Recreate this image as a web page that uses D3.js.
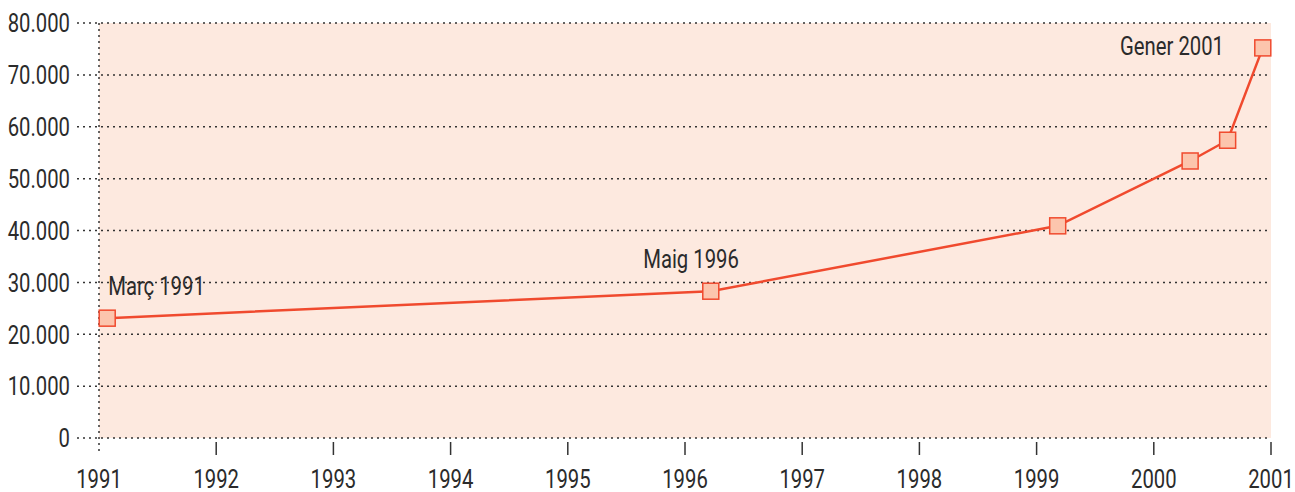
<!DOCTYPE html>
<html><head><meta charset="utf-8">
<script src="https://cdn.jsdelivr.net/npm/d3@7"></script>
<style>
body{margin:0;background:#fff;}
text{font-family:"Roboto","Liberation Sans",sans-serif;fill:#2b2b2b;}
</style></head><body>
<svg id="c" width="1295" height="492"></svg>
<script>
const yTicks = [0,10000,20000,30000,40000,50000,60000,70000,80000];
const yTickLabels = ["0","10.000","20.000","30.000","40.000","50.000","60.000","70.000","80.000"];
const xTicks = [1991,1992,1993,1994,1995,1996,1997,1998,1999,2000,2001];
const dates = [1991.07,1996.22,1999.18,2000.31,2000.63,2000.93];
const values = [23100,28300,40900,53400,57400,75200];
const labels = [
  {i:0,text:"Març 1991"},
  {i:1,text:"Maig 1996"},
  {i:5,text:"Gener 2001"}
];

const svg = d3.select("#c");
const m = {l:99,r:1271,t:23,b:438};
const x = d3.scaleLinear().domain([1991,2001]).range([m.l,m.r]);
const y = d3.scaleLinear().domain([0,80000]).range([m.b,m.t]);
const SX = 0.78, FS = 26;

function txt(g, tx, ty, s, anchor, dy){
  return g.append("text").attr("transform",`translate(${tx},${ty}) scale(${SX},1)`)
    .attr("text-anchor",anchor||"start").attr("dy",dy||0).attr("font-size",FS).text(s);
}

svg.append("rect").attr("x",m.l).attr("y",m.t).attr("width",m.r-m.l).attr("height",m.b-m.t).attr("fill","#fde9df");

// grid
svg.append("g").selectAll("line").data(yTicks).join("line")
  .attr("x1",77).attr("x2",m.r).attr("y1",d=>y(d)).attr("y2",d=>y(d))
  .attr("stroke","#333").attr("stroke-width",1.5).attr("stroke-dasharray","2,4");
svg.append("line").attr("x1",m.l).attr("x2",m.l).attr("y1",m.t).attr("y2",455)
  .attr("stroke","#333").attr("stroke-width",1.5).attr("stroke-dasharray","2,4");

const gy = svg.append("g");
yTicks.forEach((d,i)=>txt(gy,70,y(d),yTickLabels[i],"end","0.36em"));

// x ticks
svg.append("g").selectAll("line").data(xTicks.slice(1)).join("line")
  .attr("x1",d=>x(d)).attr("x2",d=>x(d)).attr("y1",442).attr("y2",455)
  .attr("stroke","#333").attr("stroke-width",1.5);
const gx = svg.append("g");
xTicks.forEach(d=>txt(gx,x(d),488,String(d),"middle"));

// line
const pts = dates.map((d,i)=>[x(d),y(values[i])]);
svg.append("path").attr("d",d3.line()(pts)).attr("fill","none")
  .attr("stroke","#f04a2e").attr("stroke-width",2.5);
svg.append("g").selectAll("rect").data(pts).join("rect")
  .attr("x",d=>d[0]-8).attr("y",d=>d[1]-8).attr("width",16).attr("height",16)
  .attr("fill","#fcc5ad").attr("stroke","#f04a2e").attr("stroke-width",1.5);

// annotations
const ann = svg.append("g");
txt(ann, x(dates[0])+1, 295, labels[0].text, "start");
txt(ann, 691, 268, labels[1].text, "middle");
txt(ann, 1224, 55, labels[2].text, "end");
</script>
</body></html>
